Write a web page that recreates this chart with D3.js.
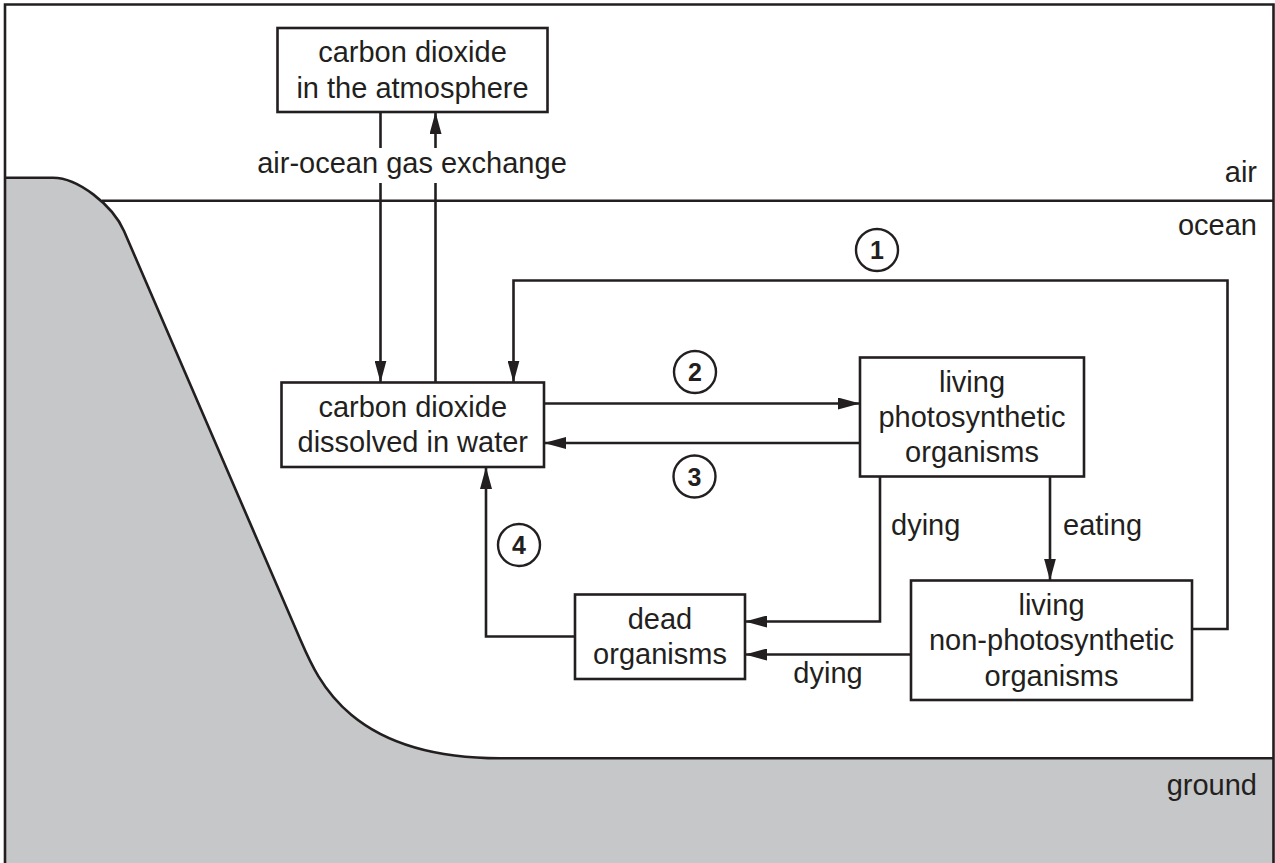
<!DOCTYPE html>
<html>
<head>
<meta charset="utf-8">
<script src="https://cdn.jsdelivr.net/npm/d3@7"></script>
<style>
  html, body { margin: 0; padding: 0; background: #fff; }
  svg { display: block; }
  text { font-family: "Liberation Sans", Arial, Helvetica, sans-serif; fill: #231f20; }
</style>
</head>
<body>
<div id="chart"></div>
<script>
// --- diagram content ---
const nodeIds = ["atm", "dissolved", "photo", "nonphoto", "dead"];
const nodeLines = [
  ["carbon dioxide", "in the atmosphere"],
  ["carbon dioxide", "dissolved in water"],
  ["living", "photosynthetic", "organisms"],
  ["living", "non-photosynthetic", "organisms"],
  ["dead", "organisms"]
];
const edgeIds = ["atmDown", "atmUp", "one", "two", "three", "eating", "dyingPhoto", "dyingNon", "four"];
const stepNumbers = ["1", "2", "3", "4"];
const zoneLabels = ["air", "ocean", "ground"];
const edgeLabels = ["air-ocean gas exchange", "dying", "eating", "dying"];

// --- layout (pixel positions of the drawing) ---
const W = 1275, H = 863;
const ink = "#231f20", landFill = "#c6c7c9";

const boxLayout = {
  atm:       {x0: 277.5, x1: 547.5, y0: 28,    y1: 112},
  dissolved: {x0: 281.5, x1: 544,   y0: 382.5, y1: 467},
  photo:     {x0: 860,   x1: 1084,  y0: 357.5, y1: 476.5},
  nonphoto:  {x0: 911,   x1: 1192,  y0: 580.5, y1: 700},
  dead:      {x0: 575,   x1: 745,   y0: 594.5, y1: 679}
};

const edgeLayout = {
  atmDown:    [[380.5, 112], [380.5, 382.5]],
  atmUp:      [[435.5, 382.5], [435.5, 112]],
  one:        [[1192, 629], [1227.5, 629], [1227.5, 280.5], [513.5, 280.5], [513.5, 382.5]],
  two:        [[544, 403.5], [860, 403.5]],
  three:      [[860, 443], [544, 443]],
  eating:     [[1050, 476.5], [1050, 580.5]],
  dyingPhoto: [[880, 476.5], [880, 621.5], [745, 621.5]],
  dyingNon:   [[911, 654.5], [745, 654.5]],
  four:       [[575, 636.5], [486, 636.5], [486, 467]]
};

const stepLayout = [[877, 250], [695, 372], [694.5, 476.5], [519, 545]];
const zoneLayout = [[1257, 182], [1257, 235], [1257, 795]];
const edgeLabelLayout = [
  {x: 412, y: 173, anchor: "middle"},
  {x: 891, y: 535, anchor: "start"},
  {x: 1063, y: 535, anchor: "start"},
  {x: 828, y: 683, anchor: "middle"}
];

const seaLevelY = 200.7;
const floorY = 758.3;

// --- drawing ---
const svg = d3.select("#chart").append("svg")
  .attr("width", W)
  .attr("height", H);

svg.append("defs").append("marker")
  .attr("id", "head")
  .attr("markerUnits", "userSpaceOnUse")
  .attr("viewBox", "0 -6 22 12")
  .attr("refX", 22)
  .attr("refY", 0)
  .attr("markerWidth", 22)
  .attr("markerHeight", 12)
  .attr("orient", "auto")
  .append("path")
  .attr("d", "M0,-6L22,0L0,6Z")
  .attr("fill", ink);

// coastline: flat cliff top, rounded edge, straight slope, rounded foot, flat sea floor
function coastPath(p) {
  p.moveTo(5, 177.7);
  p.lineTo(53, 177.7);
  p.bezierCurveTo(78, 177.7, 112.5, 205, 124, 231);
  p.lineTo(300.5, 640);
  p.bezierCurveTo(317.7, 680, 350, floorY, 500, floorY);
  p.lineTo(1274, floorY);
  return p;
}

// land fill
const land = coastPath(d3.path());
land.lineTo(1274, H + 10);
land.lineTo(5, H + 10);
land.closePath();
svg.append("path")
  .attr("d", land.toString())
  .attr("fill", landFill);

// coast outline
svg.append("path")
  .attr("d", coastPath(d3.path()).toString())
  .attr("fill", "none")
  .attr("stroke", ink)
  .attr("stroke-width", 2.6);

// sea level (starts where it meets the cliff)
svg.append("line")
  .attr("x1", 102).attr("x2", 1274)
  .attr("y1", seaLevelY).attr("y2", seaLevelY)
  .attr("stroke", ink)
  .attr("stroke-width", 2.6);

// outer frame (open at the bottom)
svg.append("path")
  .attr("d", `M5,${H + 5}V4.5H1273.5V${H + 5}`)
  .attr("fill", "none")
  .attr("stroke", ink)
  .attr("stroke-width", 2.6);

// arrows
const edgePath = d3.line();
svg.append("g")
  .selectAll("path")
  .data(edgeIds)
  .join("path")
  .attr("d", d => edgePath(edgeLayout[d]))
  .attr("fill", "none")
  .attr("stroke", ink)
  .attr("stroke-width", 2.6)
  .attr("marker-end", "url(#head)");

// boxes
const boxG = svg.append("g")
  .selectAll("g")
  .data(nodeIds.map((id, i) => ({id, lines: nodeLines[i], b: boxLayout[id]})))
  .join("g");

boxG.append("rect")
  .attr("x", d => d.b.x0)
  .attr("y", d => d.b.y0)
  .attr("width", d => d.b.x1 - d.b.x0)
  .attr("height", d => d.b.y1 - d.b.y0)
  .attr("fill", "#fff")
  .attr("stroke", ink)
  .attr("stroke-width", 2.6);

boxG.each(function(d) {
  const cx = (d.b.x0 + d.b.x1) / 2;
  const cy = (d.b.y0 + d.b.y1) / 2;
  const n = d.lines.length;
  d3.select(this).selectAll("text")
    .data(d.lines)
    .join("text")
    .attr("x", cx)
    .attr("y", (t, i) => cy + 10 + (i - (n - 1) / 2) * 35.3)
    .attr("text-anchor", "middle")
    .attr("font-size", 29)
    .text(t => t);
});

// edge labels (the gas exchange one sits on a white patch that breaks the lines)
const labelG = svg.append("g")
  .selectAll("g")
  .data(edgeLabels.map((t, i) => ({t, p: edgeLabelLayout[i], i})))
  .join("g");

labelG.filter(d => d.i === 0).append("rect")
  .attr("x", d => d.p.x - 160)
  .attr("y", d => d.p.y - 25)
  .attr("width", 320)
  .attr("height", 35)
  .attr("fill", "#fff");

labelG.append("text")
  .attr("x", d => d.p.x)
  .attr("y", d => d.p.y)
  .attr("text-anchor", d => d.p.anchor)
  .attr("font-size", 29)
  .text(d => d.t);

// zone labels
svg.append("g")
  .selectAll("text")
  .data(zoneLabels)
  .join("text")
  .attr("x", (d, i) => zoneLayout[i][0])
  .attr("y", (d, i) => zoneLayout[i][1])
  .attr("text-anchor", "end")
  .attr("font-size", 29)
  .text(d => d);

// circled step numbers
const stepG = svg.append("g")
  .selectAll("g")
  .data(stepNumbers)
  .join("g")
  .attr("transform", (d, i) => `translate(${stepLayout[i][0]},${stepLayout[i][1]})`);

stepG.append("circle")
  .attr("r", 21)
  .attr("fill", "#fff")
  .attr("stroke", ink)
  .attr("stroke-width", 2.4);

stepG.append("text")
  .attr("y", 9)
  .attr("text-anchor", "middle")
  .attr("font-size", 25)
  .attr("font-weight", "bold")
  .text(d => d);
</script>
</body>
</html>
